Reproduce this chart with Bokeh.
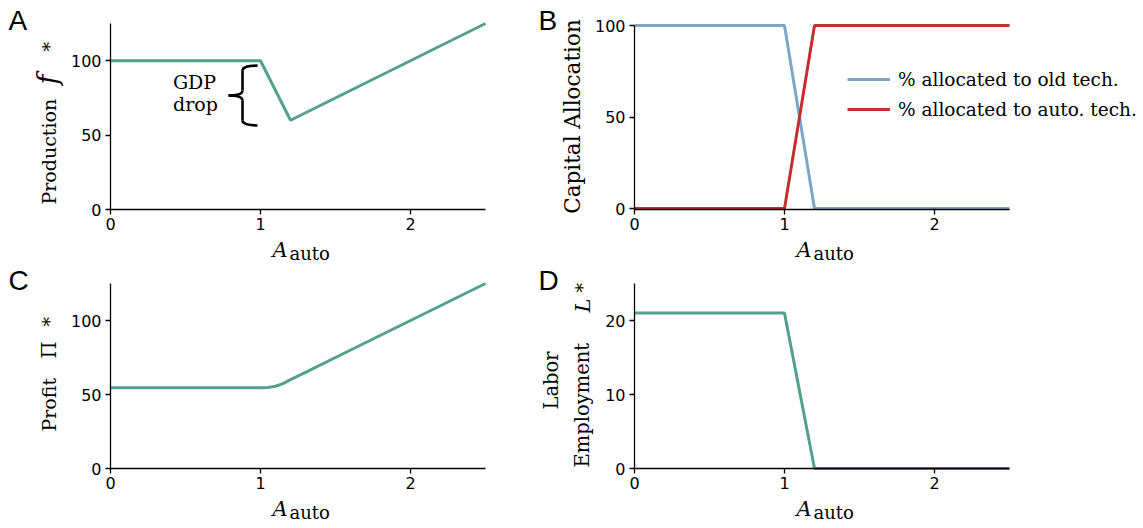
import math
from bokeh.plotting import figure
from bokeh.models import Label, Legend, LegendItem, Range1d, FixedTicker, LinearAxis
from bokeh.embed import file_html
from bokeh.resources import INLINE

# ---------------- data ----------------
a_auto = [0.0, 1.0, 1.2, 2.5]
production = [100, 100, 60, 125]
cap_old = [100, 100, 0, 0]
cap_auto = [0, 0, 100, 100]
profit_x = [0.0, 0.5, 1.0, 1.05, 1.1, 1.15, 1.2, 1.3, 1.5, 2.0, 2.5]
profit = [54.5, 54.5, 54.5, 54.8, 55.6, 57.4, 60.0, 65.0, 75.0, 100.0, 125.0]
labor = [21, 21, 0, 0]
x_ticks = [0, 1, 2]
y_ticks_a = [0, 50, 100]
y_ticks_b = [0, 50, 100]
y_ticks_c = [0, 50, 100]
y_ticks_d = [0, 10, 20]
legend_labels = ["% allocated to old tech.", "% allocated to auto. tech."]

TEAL = "#54a08e"
BLUE = "#7ba6c7"
RED = "#c1302d"
SERIF = "DejaVu Serif"
SANS = "DejaVu Sans"
LETTER = "Liberation Sans"

W, H = 1143, 528
UP = math.pi / 2
SHIFT = 0.37  # baseline correction, fraction of font size

# one canvas; default ranges are canvas pixels (y upward)
p = figure(width=W, height=H, x_range=Range1d(0, W), y_range=Range1d(0, H),
           output_backend="svg", toolbar_location=None,
           x_axis_location=None, y_axis_location=None,
           min_border=0, min_border_left=0, min_border_right=0,
           min_border_top=0, min_border_bottom=0, title=None)
for g in p.grid:
    g.visible = False
p.outline_line_color = None
p.background_fill_color = "white"
p.border_fill_color = "white"

# panel geometry (page pixels, y downward): pixel of value 0, pixels per unit
panels = {
    "A": dict(x0=110, xs=150, y0=209, ys=186 / 125, ylo=0, yhi=125, yt=y_ticks_a),
    "B": dict(x0=634, xs=150, y0=208, ys=183 / 100, ylo=-0.55, yhi=100, yt=y_ticks_b),
    "C": dict(x0=110, xs=150, y0=468, ys=185 / 125, ylo=0, yhi=125, yt=y_ticks_c),
    "D": dict(x0=634, xs=150, y0=468, ys=185 / 25, ylo=0, yhi=25, yt=y_ticks_d),
}

for name, g in panels.items():
    p.extra_x_ranges[name + "x"] = Range1d((0 - g["x0"]) / g["xs"], (W - g["x0"]) / g["xs"])
    p.extra_y_ranges[name + "y"] = Range1d((g["y0"] - H) / g["ys"], g["y0"] / g["ys"])
    yax = LinearAxis(x_range_name=name + "x", y_range_name=name + "y",
                     fixed_location=0, bounds=(g["ylo"], g["yhi"]),
                     ticker=FixedTicker(ticks=g["yt"]))
    xax = LinearAxis(x_range_name=name + "x", y_range_name=name + "y",
                     fixed_location=g["ylo"], bounds=(0, 2.5),
                     ticker=FixedTicker(ticks=x_ticks))
    for ax in (xax, yax):
        ax.axis_line_color = "black"
        ax.axis_line_width = 1.3
        ax.major_tick_line_color = "black"
        ax.major_tick_line_width = 1.3
        ax.major_tick_out = 5
        ax.major_tick_in = 0
        ax.minor_tick_line_color = None
        ax.major_label_text_font = SANS
        ax.major_label_text_font_size = "16px"
        ax.major_label_text_color = "black"
    xax.major_label_standoff = 3
    yax.major_label_standoff = 4
    p.add_layout(yax, "left")
    p.add_layout(xax, "below")


def rn(name):
    return dict(x_range_name=name + "x", y_range_name=name + "y")


def lab(px, py, text, size, font=SERIF, style="normal", angle=0.0, align="left"):
    # px, py: page pixels (from top-left) of the text baseline anchor
    c = SHIFT * size
    if angle:
        px -= c
    else:
        py -= c
    p.add_layout(Label(x=px, y=H - py, text=text, text_font=font,
                       text_font_size=f"{size}px", text_font_style=style,
                       angle=angle, text_align=align, text_baseline="alphabetic",
                       text_color="black"))


# ---------------- A: production ----------------
p.line(a_auto, production, line_color=TEAL, line_width=3, **rn("A"))
x1 = a_auto[1]
ytop = production[1] - 3.3
ybot = production[2] - 3.5
ymid = (ytop + ybot) / 2
hx, sx, tx, k = x1 - 0.02, x1 - 0.12, x1 - 0.213, 3.4
p.quadratic(x0=[hx, sx, tx, sx], y0=[ytop, ymid + k, ymid, ybot + k],
            x1=[sx, tx, sx, hx], y1=[ytop - k, ymid, ymid - k, ybot],
            cx=[sx, sx, sx, sx], cy=[ytop, ymid, ymid, ybot],
            line_color="black", line_width=2.6, **rn("A"))
p.segment(x0=[sx, sx], y0=[ytop - k, ymid - k], x1=[sx, sx], y1=[ymid + k, ybot + k],
          line_color="black", line_width=2.6, **rn("A"))
lab(194, 89, "GDP", 19, align="center")
lab(195, 111, "drop", 19, align="center")

# ---------------- B: capital allocation ----------------
r_old = p.line(a_auto, cap_old, line_color=BLUE, line_width=3, **rn("B"))
r_new = p.line(a_auto, cap_auto, line_color=RED, line_width=3, **rn("B"))
legend = Legend(items=[LegendItem(label=legend_labels[0], renderers=[r_old]),
                       LegendItem(label=legend_labels[1], renderers=[r_new])],
                location=(847, H - 120))
legend.label_text_font = SERIF
legend.label_text_font_size = "18.5px"
legend.label_text_color = "black"
legend.glyph_width = 43
legend.glyph_height = 22
legend.label_height = 22
legend.spacing = 8
legend.label_standoff = 8
legend.padding = 0
legend.margin = 0
legend.border_line_alpha = 0
legend.background_fill_alpha = 0
p.add_layout(legend)

# ---------------- C: profit ----------------
p.line(profit_x, profit, line_color=TEAL, line_width=3, **rn("C"))

# ---------------- D: labor ----------------
p.line(a_auto, labor, line_color=TEAL, line_width=3, **rn("D"))

# ---------------- axis labels ----------------
lab(56, 204, "Production", 19, angle=UP)
lab(57, 84, "f", 27, style="italic", angle=UP)
lab(56, 51, "*", 19, angle=UP)

lab(580, 116, "Capital Allocation", 21.5, angle=UP, align="center")

lab(56, 431, "Profit", 19, angle=UP)
lab(56, 358, "\u03a0", 19.5, angle=UP)
lab(56, 326, "*", 19, angle=UP)

lab(558, 380, "Labor", 19.5, angle=UP, align="center")
lab(589, 467, "Employment", 19.5, angle=UP)
lab(590, 312, "L", 21, style="italic", angle=UP)
lab(589, 292, "*", 19, angle=UP)

for name in "ABCD":
    g = panels[name]
    cx = g["x0"] + g["xs"] * 1.25
    fb = g["y0"] - g["ylo"] * g["ys"]
    lab(cx - 25.5, fb + 48, "A", 21, style="italic")
    lab(cx - 8.5, fb + 51, "auto", 18)

# panel letters
lab(8, 30, "A", 28, font=LETTER)
lab(538, 30, "B", 28, font=LETTER)
lab(8, 290, "C", 28, font=LETTER)
lab(538, 290, "D", 28, font=LETTER)

open("out.html", "w").write(file_html(p, INLINE))
